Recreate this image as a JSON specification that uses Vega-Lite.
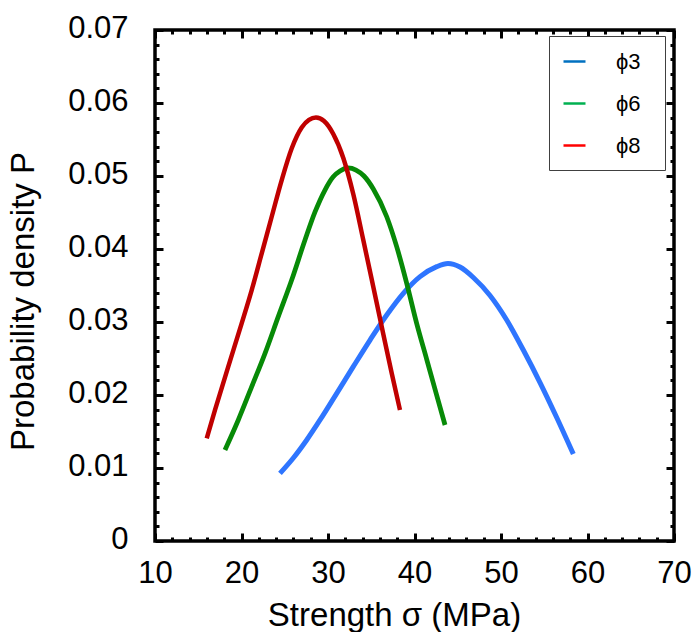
{
  "$schema": "https://vega.github.io/schema/vega-lite/v6.json",
  "width": 519,
  "height": 511,
  "autosize": {"type": "none"},
  "padding": {"left": 155, "top": 30, "right": 26, "bottom": 91},
  "background": "white",
  "config": {
    "view": {"stroke": "black", "strokeWidth": 3.5},
    "axis": {"grid": false, "domain": false, "labelFont": "Liberation Sans", "titleFont": "Liberation Sans", "labelColor": "black", "titleColor": "black", "tickColor": "black", "titleFontWeight": "normal"}
  },
  "data": {
    "values": [
      {"s": "ϕ3", "x": 24.45, "y": 0.00927},
      {"s": "ϕ3", "x": 25.99, "y": 0.01137},
      {"s": "ϕ3", "x": 27.54, "y": 0.01384},
      {"s": "ϕ3", "x": 29.08, "y": 0.01658},
      {"s": "ϕ3", "x": 31.01, "y": 0.02023},
      {"s": "ϕ3", "x": 32.92, "y": 0.02388},
      {"s": "ϕ3", "x": 34.86, "y": 0.02753},
      {"s": "ϕ3", "x": 36.79, "y": 0.03096},
      {"s": "ϕ3", "x": 38.71, "y": 0.03393},
      {"s": "ϕ3", "x": 40.64, "y": 0.03621},
      {"s": "ϕ3", "x": 42.57, "y": 0.03758},
      {"s": "ϕ3", "x": 43.87, "y": 0.03801},
      {"s": "ϕ3", "x": 45.26, "y": 0.03753},
      {"s": "ϕ3", "x": 46.8, "y": 0.0361},
      {"s": "ϕ3", "x": 48.73, "y": 0.03363},
      {"s": "ϕ3", "x": 50.66, "y": 0.03027},
      {"s": "ϕ3", "x": 52.58, "y": 0.02616},
      {"s": "ϕ3", "x": 54.51, "y": 0.02171},
      {"s": "ϕ3", "x": 56.44, "y": 0.01692},
      {"s": "ϕ3", "x": 58.36, "y": 0.01192},
      {"s": "ϕ6", "x": 18.09, "y": 0.01247},
      {"s": "ϕ6", "x": 19.63, "y": 0.01658},
      {"s": "ϕ6", "x": 21.18, "y": 0.02114},
      {"s": "ϕ6", "x": 22.72, "y": 0.02571},
      {"s": "ϕ6", "x": 24.25, "y": 0.03073},
      {"s": "ϕ6", "x": 25.8, "y": 0.03575},
      {"s": "ϕ6", "x": 27.34, "y": 0.04123},
      {"s": "ϕ6", "x": 28.5, "y": 0.04507},
      {"s": "ϕ6", "x": 29.65, "y": 0.04808},
      {"s": "ϕ6", "x": 30.58, "y": 0.04986},
      {"s": "ϕ6", "x": 31.39, "y": 0.05068},
      {"s": "ϕ6", "x": 32.31, "y": 0.0511},
      {"s": "ϕ6", "x": 33.24, "y": 0.05082},
      {"s": "ϕ6", "x": 34.16, "y": 0.05},
      {"s": "ϕ6", "x": 35.24, "y": 0.04822},
      {"s": "ϕ6", "x": 36.79, "y": 0.04442},
      {"s": "ϕ6", "x": 37.94, "y": 0.04032},
      {"s": "ϕ6", "x": 39.1, "y": 0.0353},
      {"s": "ϕ6", "x": 40.25, "y": 0.02982},
      {"s": "ϕ6", "x": 41.41, "y": 0.02489},
      {"s": "ϕ6", "x": 42.57, "y": 0.01996},
      {"s": "ϕ6", "x": 43.53, "y": 0.01589},
      {"s": "ϕ8", "x": 15.98, "y": 0.01407},
      {"s": "ϕ8", "x": 16.94, "y": 0.01795},
      {"s": "ϕ8", "x": 18.47, "y": 0.02388},
      {"s": "ϕ8", "x": 20.02, "y": 0.02982},
      {"s": "ϕ8", "x": 21.18, "y": 0.03438},
      {"s": "ϕ8", "x": 22.34, "y": 0.03941},
      {"s": "ϕ8", "x": 23.49, "y": 0.04442},
      {"s": "ϕ8", "x": 24.65, "y": 0.04945},
      {"s": "ϕ8", "x": 25.8, "y": 0.05377},
      {"s": "ϕ8", "x": 26.96, "y": 0.05664},
      {"s": "ϕ8", "x": 27.8, "y": 0.0577},
      {"s": "ϕ8", "x": 28.61, "y": 0.05801},
      {"s": "ϕ8", "x": 29.54, "y": 0.05753},
      {"s": "ϕ8", "x": 30.61, "y": 0.05575},
      {"s": "ϕ8", "x": 31.77, "y": 0.05247},
      {"s": "ϕ8", "x": 32.92, "y": 0.04753},
      {"s": "ϕ8", "x": 34.08, "y": 0.04123},
      {"s": "ϕ8", "x": 35.24, "y": 0.03479},
      {"s": "ϕ8", "x": 36.39, "y": 0.02836},
      {"s": "ϕ8", "x": 37.36, "y": 0.02301},
      {"s": "ϕ8", "x": 38.32, "y": 0.01795}
    ]
  },
  "layer": [
    {
      "mark": {"type": "line", "interpolate": "monotone", "strokeCap": "butt"},
      "encoding": {
        "x": {"field": "x", "type": "quantitative", "scale": {"domain": [10, 70], "nice": false, "zero": false},
          "axis": {"orient": "bottom", "values": [10, 20, 30, 40, 50, 60, 70], "ticks": false, "tickSize": 0, "labelFontSize": 31, "labelBaseline": "alphabetic", "labelPadding": 41, "labelFlush": false, "labelOverlap": false,
            "title": "Strength σ (MPa)", "titleFontSize": 33, "titleX": 239, "titleY": 84, "titleAlign": "center", "titleBaseline": "alphabetic"}},
        "y": {"field": "y", "type": "quantitative", "scale": {"domain": [0, 0.07], "nice": false},
          "axis": {"orient": "left", "values": [0, 0.01, 0.02, 0.03, 0.04, 0.05, 0.06, 0.07], "ticks": false, "tickSize": 0, "labelFontSize": 31, "labelPadding": 27, "labelOffset": -2, "labelFlush": false, "labelOverlap": false,
            "labelExpr": "datum.value == 0 ? '0' : format(datum.value, '.2f')",
            "title": "Probability density P", "titleFontSize": 33, "titleAngle": -90, "titleX": -122, "titleY": 271, "titleAlign": "center", "titleBaseline": "alphabetic"}},
        "color": {"field": "s", "type": "nominal", "scale": {"domain": ["ϕ3", "ϕ6", "ϕ8"], "range": ["#2e75ff", "#078a07", "#c00000"]}, "legend": null},
        "strokeWidth": {"field": "s", "type": "nominal", "scale": {"domain": ["ϕ3", "ϕ6", "ϕ8"], "range": [5, 4.5, 4]}, "legend": null}
      }
    },
    {
      "mark": {"type": "line", "opacity": 0},
      "encoding": {
        "x": {"field": "x", "type": "quantitative", "axis": {"orient": "bottom", "values": [10, 20, 30, 40, 50, 60, 70], "labels": false, "tickSize": -8, "tickWidth": 3, "title": null}},
        "y": {"field": "y", "type": "quantitative", "axis": {"orient": "left", "values": [0, 0.01, 0.02, 0.03, 0.04, 0.05, 0.06, 0.07], "labels": false, "tickSize": -8, "tickWidth": 3, "title": null}},
        "color": {"field": "s", "type": "nominal", "scale": {"domain": ["ϕ3", "ϕ6", "ϕ8"], "range": ["#0070c0", "#00b050", "#ff0000"]},
          "legend": {"orient": "none", "legendX": 394, "legendY": 6, "title": null, "symbolType": "stroke", "symbolSize": 484, "symbolStrokeWidth": 2.5, "symbolOpacity": 1,
            "labelFont": "Liberation Sans", "labelFontSize": 22, "labelColor": "black", "labelOffset": 29, "rowPadding": 18, "padding": 13,
            "strokeColor": "#404040", "fillColor": "white", "labelExpr": "datum.label + '\u2002\u200b'"}}
      }
    },
    {
      "mark": {"type": "line", "opacity": 0},
      "encoding": {
        "x": {"field": "x", "type": "quantitative", "axis": {"orient": "bottom", "values": [12, 14, 16, 18, 22, 24, 26, 28, 32, 34, 36, 38, 42, 44, 46, 48, 52, 54, 56, 58, 62, 64, 66, 68], "labels": false, "tickSize": -4, "tickWidth": 3, "title": null}},
        "y": {"field": "y", "type": "quantitative", "axis": {"orient": "left", "values": [0.002, 0.004, 0.006, 0.008, 0.012, 0.014, 0.016, 0.018, 0.022, 0.024, 0.026, 0.028, 0.032, 0.034, 0.036, 0.038, 0.042, 0.044, 0.046, 0.048, 0.052, 0.054, 0.056, 0.058, 0.062, 0.064, 0.066, 0.068], "labels": false, "tickSize": -4, "tickWidth": 3, "title": null}},
        "detail": {"field": "s"}
      }
    },
    {
      "mark": {"type": "line", "opacity": 0},
      "encoding": {
        "x": {"field": "x", "type": "quantitative", "axis": {"orient": "top", "values": [10, 20, 30, 40, 50, 60, 70], "labels": false, "tickSize": -8, "tickWidth": 3, "title": null}},
        "y": {"field": "y", "type": "quantitative", "axis": {"orient": "right", "values": [0, 0.01, 0.02, 0.03, 0.04, 0.05, 0.06, 0.07], "labels": false, "tickSize": -8, "tickWidth": 3, "title": null}},
        "detail": {"field": "s"}
      }
    },
    {
      "mark": {"type": "line", "opacity": 0},
      "encoding": {
        "x": {"field": "x", "type": "quantitative", "axis": {"orient": "top", "values": [12, 14, 16, 18, 22, 24, 26, 28, 32, 34, 36, 38, 42, 44, 46, 48, 52, 54, 56, 58, 62, 64, 66, 68], "labels": false, "tickSize": -4, "tickWidth": 3, "title": null}},
        "y": {"field": "y", "type": "quantitative", "axis": {"orient": "right", "values": [0.002, 0.004, 0.006, 0.008, 0.012, 0.014, 0.016, 0.018, 0.022, 0.024, 0.026, 0.028, 0.032, 0.034, 0.036, 0.038, 0.042, 0.044, 0.046, 0.048, 0.052, 0.054, 0.056, 0.058, 0.062, 0.064, 0.066, 0.068], "labels": false, "tickSize": -4, "tickWidth": 3, "title": null}},
        "detail": {"field": "s"}
      }
    }
  ],
  "resolve": {"axis": {"x": "independent", "y": "independent"}, "scale": {"color": "independent"}}
}
